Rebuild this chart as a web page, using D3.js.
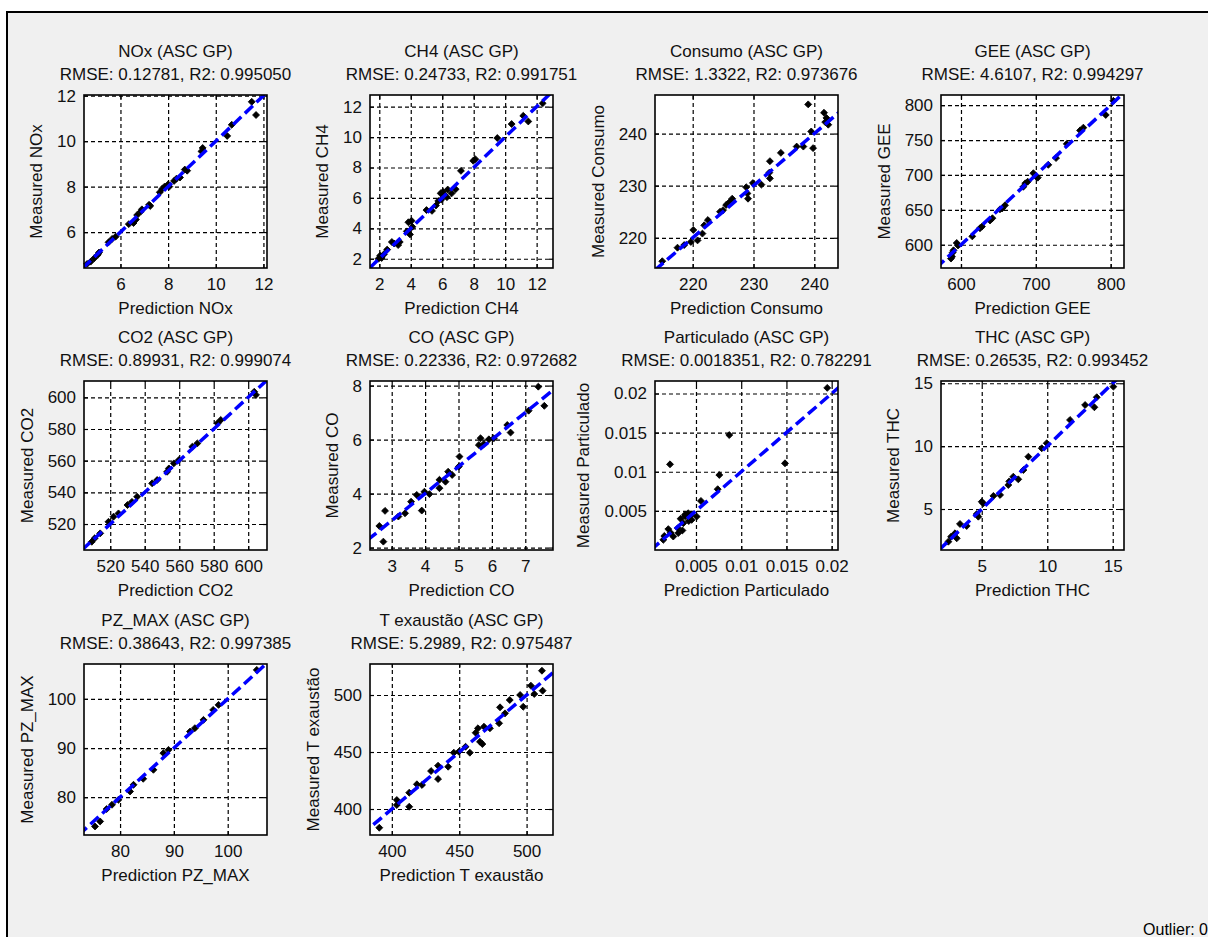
<!DOCTYPE html>
<html>
<head>
<meta charset="utf-8">
<script src="https://cdn.jsdelivr.net/npm/d3@7"></script>
<style>
  body { margin: 0; background: #fff; }
  svg { display: block; font-family: "Liberation Sans", Arial, sans-serif; }
  .grid line { stroke: #000; stroke-width: 1.2; stroke-dasharray: 4,3; }
  .grid path { display: none; }
  .ticks path { display: none; }
  .ticks line { stroke: #000; stroke-width: 1.2; }
  .ticks text { font-size: 17px; fill: #111; }
</style>
</head>
<body>
<svg width="1208" height="937"></svg>
<script>
// variable names, one per panel
const names = ["NOx", "CH4", "Consumo", "GEE", "CO2", "CO", "Particulado", "THC", "PZ_MAX", "T exaustão"];
const rmse = ["0.12781", "0.24733", "1.3322", "4.6107", "0.89931", "0.22336", "0.0018351", "0.26535", "0.38643", "5.2989"];
const r2 = ["0.995050", "0.991751", "0.973676", "0.994297", "0.999074", "0.972682", "0.782291", "0.993452", "0.997385", "0.975487"];

// axis limits [x, y]
const xLimits = [[4.47, 12.15], [1.41, 13.04], [213.8, 243.9], [573.3, 817.8], [504.8, 610.9],
                 [2.35, 7.83], [0.00047, 0.0207], [1.89, 15.86], [73.3, 107.3], [383.8, 519.6]];
const yLimits = [[4.42, 12.03], [1.39, 12.77], [214.2, 247.4], [566.7, 814.5], [503.6, 610.3],
                 [1.91, 8.17], [0, 0.0216], [1.74, 15.18], [72.3, 107.1], [377.2, 527.2]];

const xTickVals = [[6, 8, 10, 12], [2, 4, 6, 8, 10, 12], [220, 230, 240], [600, 700, 800], [520, 540, 560, 580, 600],
                   [3, 4, 5, 6, 7], [0.005, 0.01, 0.015, 0.02], [5, 10, 15], [80, 90, 100], [400, 450, 500]];
const yTickVals = [[6, 8, 10, 12], [2, 4, 6, 8, 10, 12], [220, 230, 240], [600, 650, 700, 750, 800], [520, 540, 560, 580, 600],
                   [2, 4, 6, 8], [0.005, 0.01, 0.015, 0.02], [5, 10, 15], [80, 90, 100], [400, 450, 500]];

// [prediction, measured]
const noxPts = [[4.6,4.6],[4.75,4.7],[4.9,4.85],[5.05,5.0],[5.1,5.1],[5.5,5.55],[5.65,5.7],[5.8,5.8],[6.35,6.35],[6.55,6.4],
  [6.65,6.55],[6.7,6.75],[6.85,6.9],[6.9,7.0],[7.2,7.2],[7.25,7.15],[7.65,7.75],[7.75,7.9],[7.85,8.0],[8.0,8.1],[8.05,8.0],
  [8.25,8.25],[8.35,8.35],[8.5,8.4],[8.7,8.75],[8.8,8.7],[9.4,9.55],[9.45,9.7],[10.48,10.23],[10.67,10.72],[11.51,11.73],[11.69,11.15]];
const ch4Pts = [[1.95,2.0],[2.05,2.2],[2.15,2.05],[2.3,2.3],[2.5,2.6],[2.8,3.1],[2.95,3.0],[3.2,2.9],[3.3,3.1],[3.75,3.8],
  [3.85,4.4],[4.05,4.5],[3.95,3.6],[4.1,4.1],[5.0,5.2],[5.35,5.15],[5.6,5.5],[5.75,5.8],[5.9,6.3],[5.95,5.9],[6.05,6.4],
  [6.15,6.2],[6.3,6.05],[6.35,6.55],[6.6,6.3],[6.85,6.57],[7.19,7.78],[7.97,8.44],[8.1,8.55],[9.5,9.94],[10.41,10.86],
  [11.15,11.4],[11.47,11.03],[12.38,12.22]];
const consumoPts = [[215.0,215.5],[217.5,218.1],[218.6,218.6],[219.7,219.2],[220.1,221.5],[221.6,220.8],[221.9,222.4],
  [222.5,223.4],[225.0,225.3],[225.5,226.3],[226.5,227.5],[228.8,229.7],[229.1,227.5],[229.0,228.5],[229.9,230.5],
  [231.3,230.2],[232.6,232.5],[232.7,234.7],[232.7,231.4],[234.5,236.3],[237.1,237.5],[238.2,237.5],[239.0,245.6],
  [239.5,240.4],[239.8,237.2],[241.6,244.0],[242.0,243.0],[242.3,241.7],[241.8,242.2],[220.8,219.5],[224.5,225.0],[226.0,226.8]];
const geePts = [[586.6,580.2],[588.0,583.0],[588.9,588.8],[590.0,592.0],[594.3,602.5],[596.0,599.0],[615.1,612.0],
  [625.4,623.7],[628.0,626.0],[638.8,634.8],[642.0,638.0],[652.1,650.7],[655.0,652.0],[658.8,656.5],[683.3,683.0],
  [686.0,688.0],[689.1,690.3],[696.7,702.5],[702.6,696.1],[700.0,698.0],[716.7,714.5],[727.0,724.2],[741.3,744.5],
  [759.1,763.8],[763.5,767.7],[793.4,785.9],[803.6,806.2]];
const co2Pts = [[509.3,508.8],[511.0,511.0],[514.2,514.1],[519.0,521.4],[521.9,524.6],[524.8,526.7],[532.6,534.0],
  [535.6,537.2],[544.3,545.7],[547.2,547.8],[554.0,555.1],[556.9,558.3],[559.8,560.4],[567.6,568.8],[570.5,570.9],
  [582.2,583.6],[584.1,585.7],[603.5,603.5],[604.5,601.5],[530.0,532.0],[553.0,553.0]];
const coPts = [[2.63,2.80],[2.75,2.22],[2.80,3.36],[3.20,3.15],[3.40,3.27],[3.58,3.70],[3.75,3.95],[3.90,3.37],[3.98,4.07],
  [4.13,3.98],[4.43,4.51],[4.43,4.20],[4.61,4.44],[4.69,4.81],[4.81,4.69],[5.01,5.00],[5.03,5.37],[5.61,5.80],[5.66,6.05],
  [5.76,5.84],[5.91,6.01],[6.06,6.05],[6.46,6.54],[6.56,6.26],[7.10,7.07],[7.39,7.96],[7.57,7.25]];
const partPts = [[0.00139,0.0013],[0.0015,0.0018],[0.00194,0.00267],[0.00213,0.01095],[0.0022,0.0022],[0.00249,0.00172],
  [0.003,0.0028],[0.00304,0.00216],[0.0033,0.004],[0.0035,0.0025],[0.0036,0.00343],[0.00378,0.0045],[0.0038,0.0043],
  [0.00415,0.0047],[0.0042,0.0037],[0.0045,0.0045],[0.00452,0.00385],[0.00508,0.00427],[0.00555,0.00627],[0.0074,0.00777],
  [0.00758,0.00959],[0.00868,0.01469],[0.01484,0.01108],[0.01951,0.02072]];
const thcPts = [[2.45,2.40],[2.66,2.80],[2.96,3.07],[3.09,2.67],[3.34,3.81],[3.85,3.65],[4.62,4.60],[4.74,4.39],[5.0,5.58],
  [5.12,5.45],[5.89,6.04],[6.40,6.12],[7.03,6.91],[7.1,7.2],[7.41,7.57],[7.79,7.36],[8.18,8.10],[8.56,9.16],[9.58,9.83],
  [9.96,10.23],[11.74,12.08],[12.89,13.27],[13.60,13.09],[13.78,13.89],[15.05,14.73]];
const pzPts = [[75.35,74.04],[76.3,75.06],[77.5,77.58],[78.5,78.45],[79.7,79.47],[81.86,81.16],[82.5,82.52],[84.3,83.74],
  [86.2,85.57],[88.05,88.96],[89.0,89.63],[93.0,93.35],[93.9,94.04],[95.5,95.73],[97.3,97.76],[98.3,98.78],[105.4,105.9]];
const texPts = [[390.7,383.6],[403.7,407.9],[403.7,403.5],[412.9,414.3],[412.9,402.0],[418.6,421.7],[422.4,421.1],
  [429.1,433.3],[434.3,438.0],[434.3,426.3],[441.8,437.1],[446.0,449.4],[449.7,450.3],[454.7,454.6],[457.9,449.4],
  [462.2,466.9],[463.9,470.8],[465.4,459.0],[467.2,457.0],[468.4,472.2],[472.8,470.8],[479.6,475.2],[480.3,489.2],
  [484.0,483.9],[487.5,495.6],[495.2,500.0],[497.5,489.7],[503.2,508.2],[505.7,500.9],[511.4,521.3],[511.9,503.8]];
const points = [noxPts, ch4Pts, consumoPts, geePts, co2Pts, coPts, partPts, thcPts, pzPts, texPts];

const svg = d3.select("svg");

// figure background with border
svg.append("rect")
  .attr("x", 7).attr("y", 12)
  .attr("width", 1300).attr("height", 1000)
  .attr("fill", "#f0f0f0")
  .attr("stroke", "#000").attr("stroke-width", 2);

const colLeft = [84, 370, 655, 941];
const rowTop = [95, 381, 664];
const rowH = [173, 169, 171];
const plotW = 183;

names.forEach((name, i) => {
  const col = i % 4, row = Math.floor(i / 4);
  const w = plotW, h = rowH[row];
  const g = svg.append("g").attr("transform", `translate(${colLeft[col]},${rowTop[row]})`);

  const x = d3.scaleLinear().domain(xLimits[i]).range([0, w]);
  const y = d3.scaleLinear().domain(yLimits[i]).range([h, 0]);
  const fmt = v => String(v);

  g.append("rect").attr("width", w).attr("height", h).attr("fill", "#fff");

  // dashed grid
  g.append("g").attr("class", "grid").attr("transform", `translate(0,${h})`)
    .call(d3.axisBottom(x).tickValues(xTickVals[i]).tickSize(-h).tickFormat(""));
  g.append("g").attr("class", "grid")
    .call(d3.axisLeft(y).tickValues(yTickVals[i]).tickSize(-w).tickFormat(""));

  // inward ticks on all four sides
  g.append("g").attr("class", "ticks").attr("transform", `translate(0,${h})`)
    .call(d3.axisBottom(x).tickValues(xTickVals[i]).tickSize(-4).tickPadding(10).tickFormat(fmt));
  const yAx = g.append("g").attr("class", "ticks")
    .call(d3.axisLeft(y).tickValues(yTickVals[i]).tickSize(-4).tickPadding(8).tickFormat(fmt));
  g.append("g").attr("class", "ticks")
    .call(d3.axisTop(x).tickValues(xTickVals[i]).tickSize(-4).tickFormat(""));
  g.append("g").attr("class", "ticks").attr("transform", `translate(${w},0)`)
    .call(d3.axisRight(y).tickValues(yTickVals[i]).tickSize(-4).tickFormat(""));

  // markers: filled diamonds
  g.append("g").selectAll("path").data(points[i]).join("path")
    .attr("transform", d => `translate(${x(d[0])},${y(d[1])}) rotate(45)`)
    .attr("d", d3.symbol(d3.symbolSquare, 24))
    .attr("fill", "#000").attr("stroke", "#000").attr("stroke-width", 0.8);

  // y = x reference line
  const clipId = "clip" + i;
  g.append("clipPath").attr("id", clipId)
    .append("rect").attr("width", w).attr("height", h);
  const lo = Math.min(xLimits[i][0], yLimits[i][0]);
  const hi = Math.max(xLimits[i][1], yLimits[i][1]);
  g.append("line")
    .attr("clip-path", `url(#${clipId})`)
    .attr("x1", x(lo)).attr("y1", y(lo))
    .attr("x2", x(hi)).attr("y2", y(hi))
    .attr("stroke", "#0000ff").attr("stroke-width", 3.5)
    .attr("stroke-dasharray", "11,5");

  // box
  g.append("rect").attr("width", w).attr("height", h)
    .attr("fill", "none").attr("stroke", "#000").attr("stroke-width", 1.6);

  // titles
  const t = g.append("text").attr("text-anchor", "middle").attr("font-size", 17).attr("fill", "#111");
  t.append("tspan").attr("x", w / 2).attr("y", -38).text(`${name} (ASC GP)`);
  t.append("tspan").attr("x", w / 2).attr("y", -15).text(`RMSE: ${rmse[i]}, R2: ${r2[i]}`);

  g.append("text").attr("text-anchor", "middle").attr("font-size", 17).attr("fill", "#111")
    .attr("x", w / 2).attr("y", h + 46).text(`Prediction ${name}`);

  const tickLeft = yAx.node().getBBox().x;
  g.append("text").attr("text-anchor", "middle").attr("font-size", 17).attr("fill", "#111")
    .attr("transform", `translate(${tickLeft - 15},${h / 2}) rotate(-90)`)
    .text(`Measured ${name}`);
});

svg.append("text")
  .attr("x", 1208).attr("y", 935)
  .attr("text-anchor", "end").attr("font-size", 16)
  .text("Outlier: 0");
</script>
</body>
</html>
